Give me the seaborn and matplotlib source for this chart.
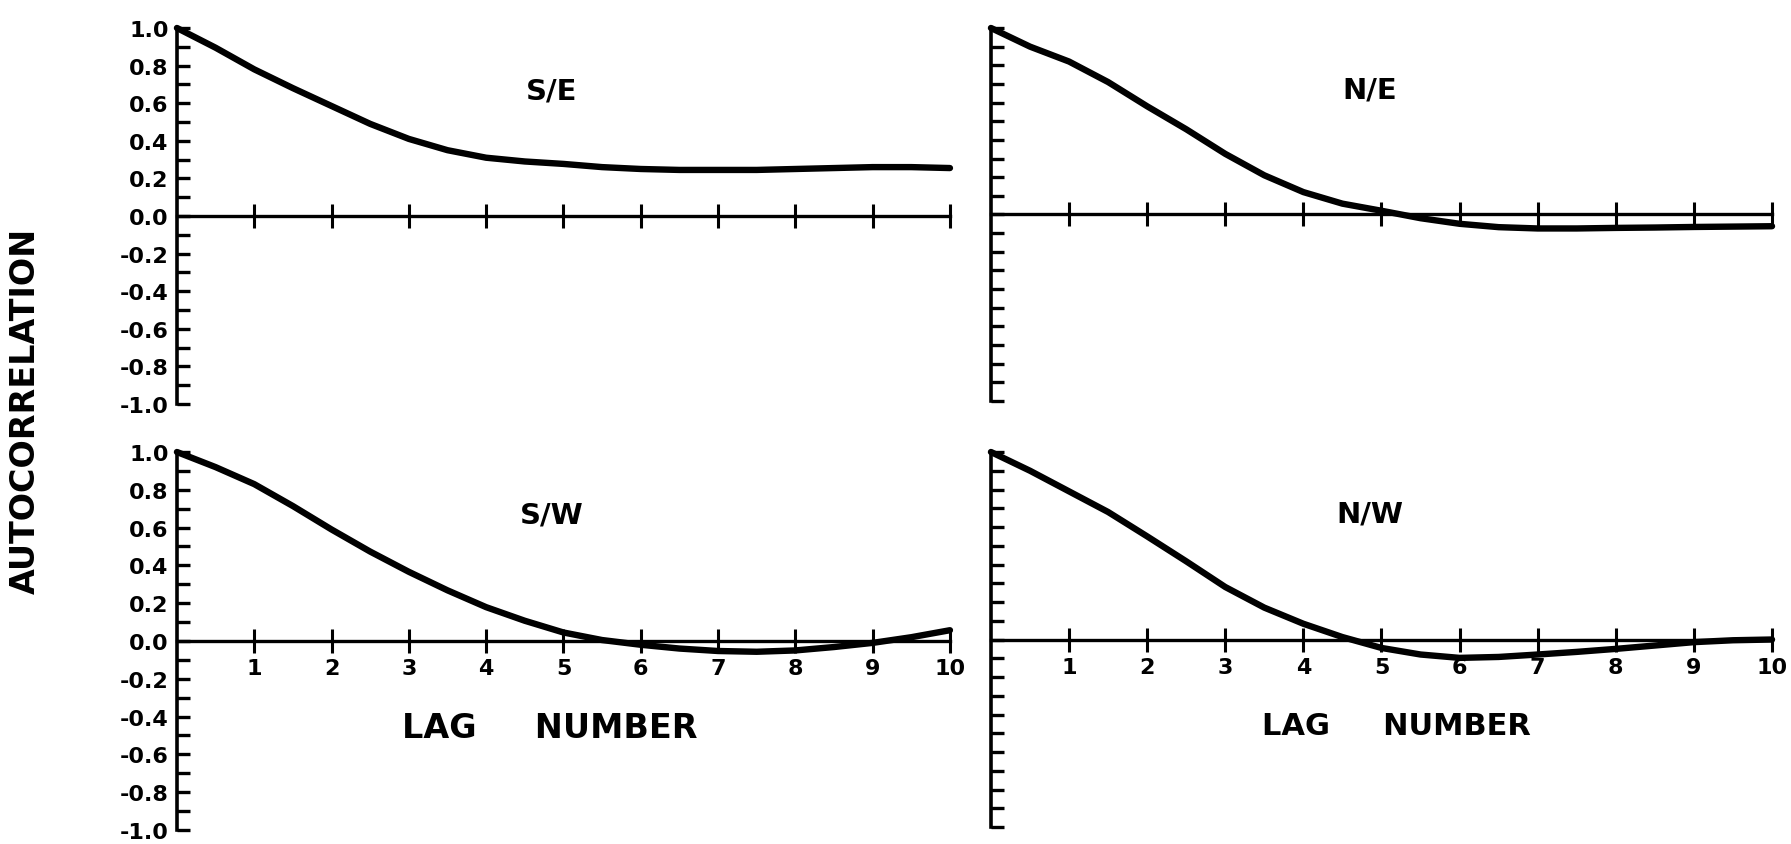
import matplotlib
matplotlib.use("Agg")
import matplotlib.pyplot as plt
import seaborn as sns

# lag axis (read at half-lag steps off the curves)
lags = [0, 0.5, 1, 1.5, 2, 2.5, 3, 3.5, 4, 4.5, 5, 5.5, 6, 6.5, 7, 7.5, 8, 8.5, 9, 9.5, 10]

se = [1.00, 0.895, 0.78, 0.68, 0.585, 0.49, 0.41, 0.35, 0.31, 0.29, 0.277,
      0.26, 0.25, 0.245, 0.245, 0.245, 0.25, 0.255, 0.26, 0.26, 0.255]
ne = [1.00, 0.90, 0.82, 0.71, 0.58, 0.457, 0.325, 0.21, 0.12, 0.058, 0.02,
      -0.02, -0.05, -0.068, -0.075, -0.075, -0.072, -0.07, -0.067, -0.065, -0.063]
sw = [1.00, 0.92, 0.83, 0.714, 0.59, 0.473, 0.366, 0.268, 0.179, 0.107, 0.045,
      0.005, -0.02, -0.04, -0.053, -0.057, -0.05, -0.032, -0.01, 0.02, 0.057]
nw = [1.00, 0.90, 0.79, 0.68, 0.55, 0.417, 0.28, 0.17, 0.084, 0.013, -0.045,
      -0.08, -0.098, -0.093, -0.08, -0.066, -0.05, -0.032, -0.014, -0.004, 0.0]

panel_names = ["S/E", "N/E", "S/W", "N/W"]
yticks = [1.0, 0.8, 0.6, 0.4, 0.2, 0.0, -0.2, -0.4, -0.6, -0.8, -1.0]
ytick_labels = ["%.1f" % v for v in yticks]
xticks = [1, 2, 3, 4, 5, 6, 7, 8, 9, 10]
xtick_labels = ["1", "2", "3", "4", "5", "6", "7", "8", "9", "10"]

sns.set_style("white")
plt.rcParams["font.family"] = ["DejaVu Sans"]
plt.rcParams["font.weight"] = "bold"
plt.rcParams["text.color"] = "black"
plt.rcParams["xtick.color"] = "black"
plt.rcParams["ytick.color"] = "black"
plt.rcParams["axes.unicode_minus"] = False

fig = plt.figure(figsize=(17.91, 8.45), dpi=100)

boxes = [
    [0.0988, 0.5207, 0.4316, 0.4450],
    [0.5533, 0.5243, 0.4361, 0.4414],
    [0.0988, 0.0166, 0.4316, 0.4473],
    [0.5533, 0.0201, 0.4361, 0.4438],
]
series = [se, ne, sw, nw]
lag_label_x = [None, None, 4.82, 5.19]
lag_label_size = [None, None, 24, 22]

for i, (box, vals, name) in enumerate(zip(boxes, series, panel_names)):
    ax = fig.add_axes(box)
    sns.lineplot(x=lags, y=vals, ax=ax, color="black", linewidth=4.6,
                 clip_on=False, zorder=3, solid_joinstyle="round",
                 solid_capstyle="round")
    ax.set_xlim(0, 10)
    ax.set_ylim(-1, 1)

    for s in ["top", "right"]:
        ax.spines[s].set_visible(False)
    ax.spines["left"].set_linewidth(2.6)
    ax.spines["left"].set_color("black")
    ax.spines["bottom"].set_position(("data", 0))
    ax.spines["bottom"].set_linewidth(2.4)
    ax.spines["bottom"].set_color("black")

    ax.set_yticks([v / 10 for v in range(-10, 11)], minor=True)
    ax.set_yticks(yticks)
    ax.tick_params(axis="y", which="both", direction="in", length=9,
                   width=2.4, left=True, pad=6)
    ax.set_xticks(xticks)
    ax.tick_params(axis="x", direction="inout", length=17, width=2.2,
                   bottom=True, pad=4)

    if i % 2 == 0:
        ax.set_yticklabels(ytick_labels, fontsize=16, fontweight="bold")
    else:
        ax.set_yticklabels([])
    if i >= 2:
        ax.set_xticklabels(xtick_labels, fontsize=16, fontweight="bold")
        ax.text(lag_label_x[i], -0.46, "LAG     NUMBER", ha="center",
                va="center", fontsize=lag_label_size[i], fontweight="bold")
    else:
        ax.set_xticklabels([])

    ax.text(4.85, 0.67, name, ha="center", va="center", fontsize=21,
            fontweight="bold")
    ax.set_xlabel("")
    ax.set_ylabel("")

fig.text(0.014, 0.514, "AUTOCORRELATION", rotation=90, ha="center",
         va="center", fontsize=24, fontweight="bold")

fig.savefig("out.png", dpi=100, facecolor="white")
